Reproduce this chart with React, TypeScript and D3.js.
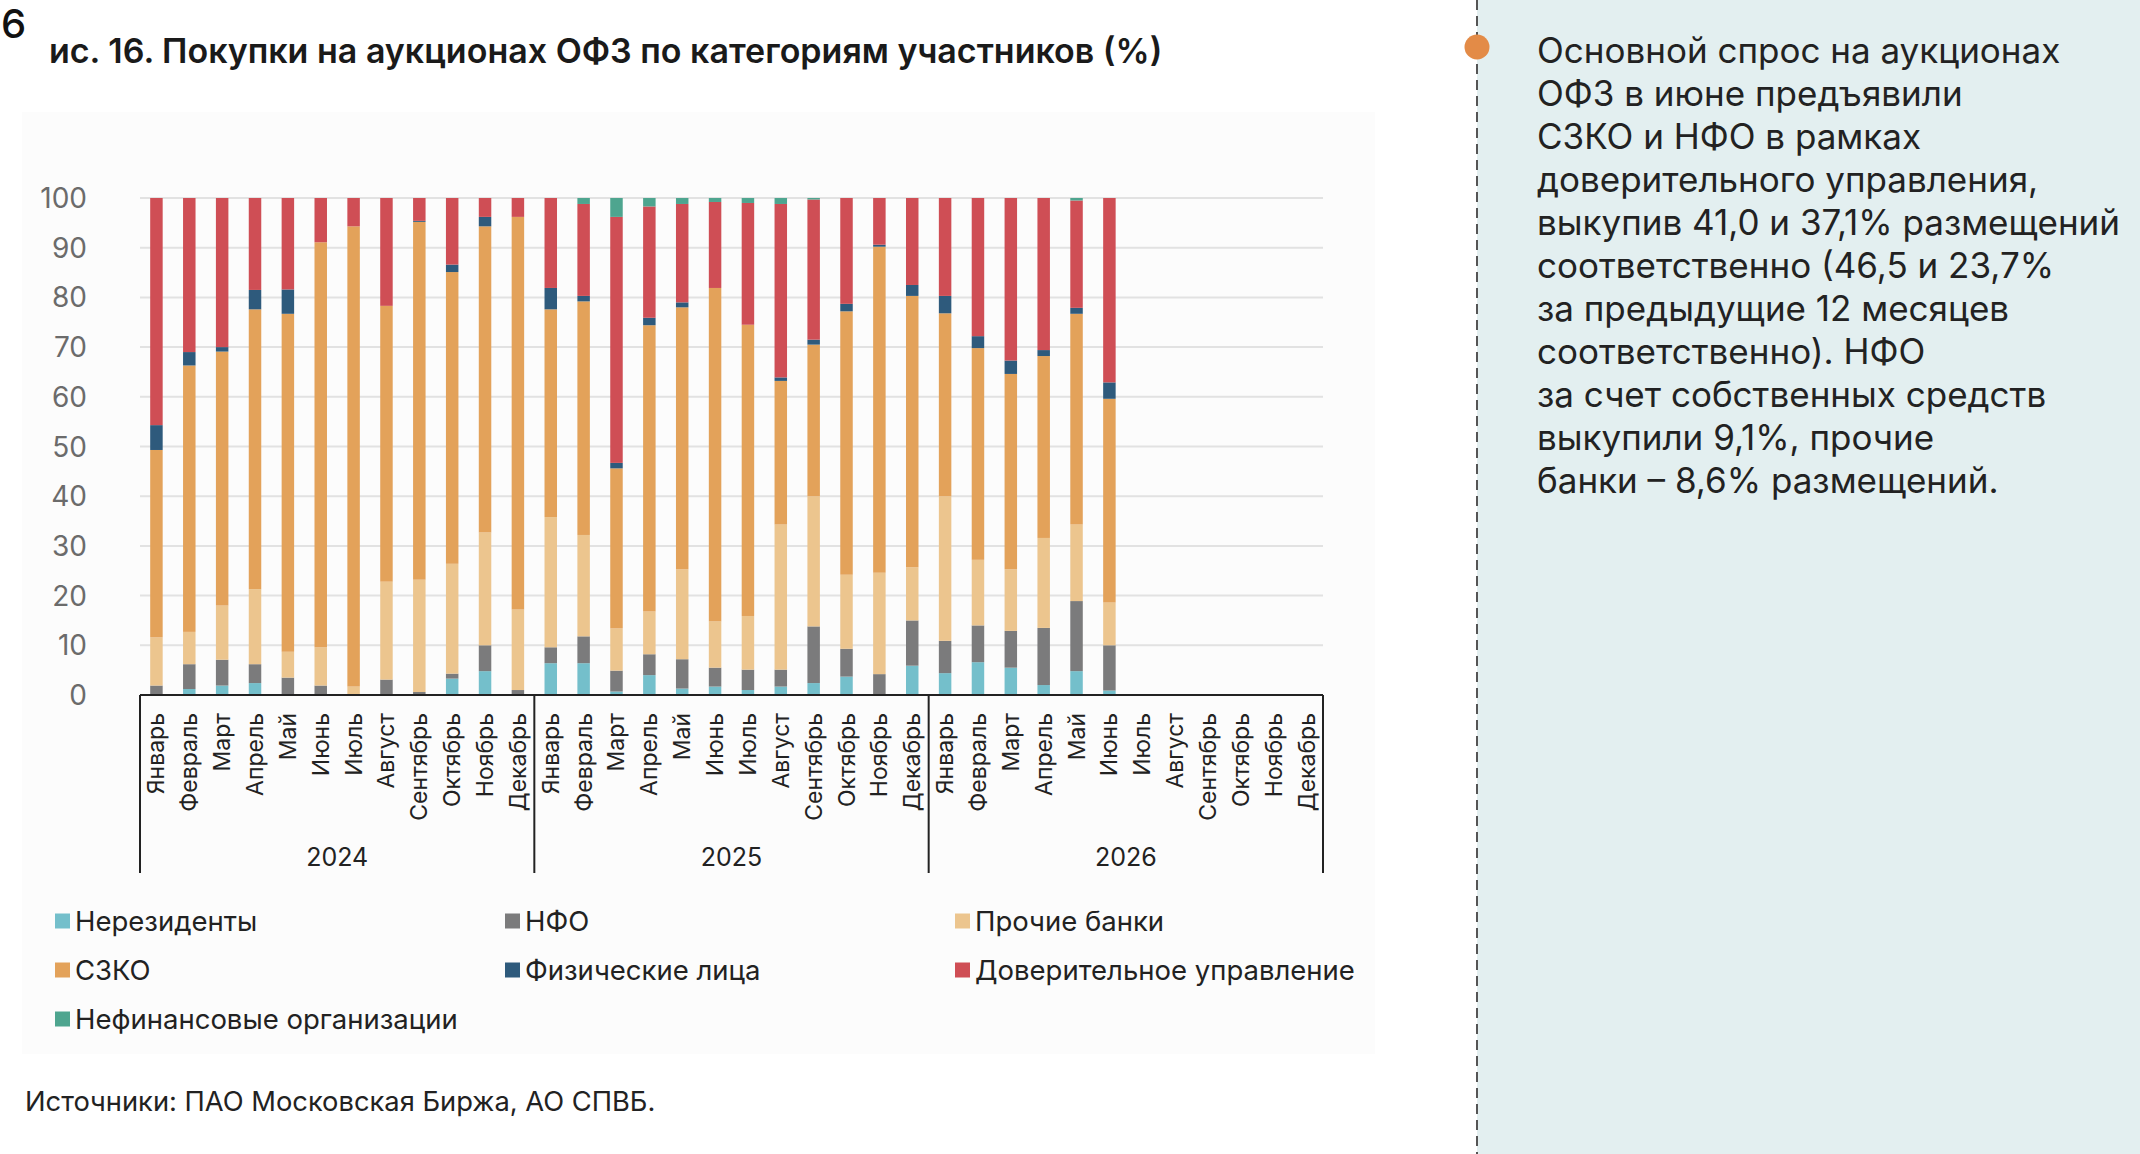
import React from 'react'
import * as d3 from 'd3'

// monthly shares of OFZ auction purchases, Jan 2024 .. Jun 2026 (%)
const months = ['Январь', 'Февраль', 'Март', 'Апрель', 'Май', 'Июнь', 'Июль', 'Август', 'Сентябрь', 'Октябрь', 'Ноябрь', 'Декабрь']
const years = ['2024', '2025', '2026']

const nonResidents = [0, 1.2, 1.9, 2.4, 0, 0, 0, 0, 0, 3.3, 4.8, 0, 6.4, 6.4, 0.7, 4.0, 1.3, 1.7, 1.0, 1.7, 2.4, 3.7, 0, 5.9, 4.4, 6.6, 5.5, 2.0, 4.8, 0.9]
const nfo = [1.9, 5.0, 5.2, 3.8, 3.5, 1.9, 0.2, 3.1, 0.6, 1.0, 5.2, 1.0, 3.2, 5.4, 4.2, 4.2, 5.9, 3.8, 4.1, 3.4, 11.4, 5.6, 4.2, 9.1, 6.5, 7.4, 7.4, 11.5, 14.1, 9.1]
const otherBanks = [9.7, 6.5, 10.9, 15.1, 5.2, 7.7, 1.5, 19.7, 22.6, 22.1, 22.7, 16.2, 26.2, 20.4, 8.5, 8.6, 18.1, 9.3, 10.8, 29.2, 26.2, 14.9, 20.4, 10.7, 29.1, 13.2, 12.4, 18.1, 15.4, 8.6]
const szko = [37.7, 53.6, 51.1, 56.3, 68.0, 81.5, 92.6, 55.5, 72.0, 58.7, 61.6, 79.0, 41.8, 47.0, 32.2, 57.6, 52.7, 67.1, 58.6, 28.9, 30.5, 53.0, 65.6, 54.6, 36.8, 42.6, 39.3, 36.6, 42.4, 41.0]
const individuals = [5.0, 2.7, 0.9, 3.9, 4.9, 0, 0, 0, 0.2, 1.5, 1.9, 0, 4.3, 1.1, 1.1, 1.5, 1.0, 0, 0, 0.7, 1.0, 1.5, 0.4, 2.2, 3.5, 2.4, 2.7, 1.2, 1.2, 3.3]
const trust = [45.7, 31.0, 30.0, 18.5, 18.4, 8.9, 5.7, 21.7, 4.6, 13.4, 3.8, 3.8, 18.1, 18.5, 49.5, 22.4, 19.8, 17.3, 24.5, 34.9, 28.2, 21.3, 9.4, 17.5, 19.7, 27.8, 32.7, 30.6, 21.6, 37.1]
const nonFinancial = [0, 0, 0, 0, 0, 0, 0, 0, 0, 0, 0, 0, 0, 1.2, 3.8, 1.7, 1.2, 0.8, 1.0, 1.2, 0.3, 0, 0, 0, 0, 0, 0, 0, 0.5, 0]

const seriesNames = ['Нерезиденты', 'НФО', 'Прочие банки', 'СЗКО', 'Физические лица', 'Доверительное управление', 'Нефинансовые организации']
const seriesValues = [nonResidents, nfo, otherBanks, szko, individuals, trust, nonFinancial]
const colors = ['#74bfcb', '#7b7b7c', '#ecc58e', '#e3a25a', '#2e5a7c', '#cf4e55', '#4ea58f']
const yTicks = [0, 10, 20, 30, 40, 50, 60, 70, 80, 90, 100]

const noteLines = [
  'Основной спрос на аукционах',
  'ОФЗ в июне предъявили',
  'СЗКО и НФО в рамках',
  'доверительного управления,',
  'выкупив 41,0 и 37,1% размещений',
  'соответственно (46,5 и 23,7%',
  'за предыдущие 12 месяцев',
  'соответственно). НФО',
  'за счет собственных средств',
  'выкупили 9,1%, прочие',
  'банки – 8,6% размещений.',
]

const font = 'Inter, "Noto Sans", sans-serif'

export default function App() {
  const width = 2140
  const height = 1154
  const left = 140
  const right = 1323
  const top = 198
  const bottom = 695

  const categories = years.flatMap((y) => months.map((m) => `${y}-${m}`))
  const x = d3.scaleBand().domain(categories).range([left, right]).paddingInner(0.62).paddingOuter(0.31)
  const y = d3.scaleLinear().domain([0, 100]).range([bottom, top])

  const rows = nonResidents.map((_, i) => {
    const row: any = { key: categories[i] }
    seriesNames.forEach((n, j) => (row[n] = seriesValues[j][i]))
    return row
  })
  const stacked = d3.stack().keys(seriesNames)(rows)

  const groupWidth = (right - left) / years.length

  return (
    <div style={{ position: 'absolute', left: 0, top: 0 }}>
      <svg width={width} height={height} style={{ display: 'block', fontFamily: font }}>
        <rect width={width} height={height} fill="#ffffff" />
        <rect x={22} y={112} width={1353} height={942} fill="#fcfcfc" />

        {/* note panel */}
        <rect x={1477} y={0} width={width - 1477} height={height} fill="#e3eff0" />
        <line x1={1477} x2={1477} y1={0} y2={height} stroke="#555" strokeWidth={2} strokeDasharray="10 6" />
        <circle cx={1477} cy={47} r={12.5} fill="#e38b47" />
        {noteLines.map((t, i) => (
          <text key={i} x={1537} y={63 + i * 43} fontSize={35} fill="#222">
            {t}
          </text>
        ))}

        <text x={1} y={38} fontSize={40} fontWeight={500} fill="#111">6</text>
        <text x={49} y={63} fontSize={34} fontWeight={600} fill="#1a1a1a">
          ис. 16. Покупки на аукционах ОФЗ по категориям участников (%)
        </text>

        {/* grid and y labels */}
        {yTicks.map((t) => (
          <g key={t}>
            {t > 0 && <line x1={left} x2={right} y1={y(t)} y2={y(t)} stroke="#e2e2e2" strokeWidth={2} />}
            <text x={87} y={y(t)} fontSize={28} fill="#6b6b6b" textAnchor="end" dominantBaseline="central">
              {t}
            </text>
          </g>
        ))}

        {/* stacked bars */}
        {stacked.map((layer, j) => (
          <g key={layer.key} fill={colors[j]}>
            {layer.map((d, i) =>
              d[1] - d[0] > 0 ? (
                <rect key={i} x={x(categories[i])} width={x.bandwidth()} y={y(d[1])} height={y(d[0]) - y(d[1])} />
              ) : null
            )}
          </g>
        ))}

        {/* category axis */}
        <line x1={left} x2={right} y1={bottom} y2={bottom} stroke="#222" strokeWidth={2} />
        {d3.range(years.length + 1).map((i) => (
          <line key={i} x1={left + i * groupWidth} x2={left + i * groupWidth} y1={bottom} y2={873} stroke="#222" strokeWidth={2} />
        ))}
        {categories.map((c, i) => (
          <text
            key={c}
            transform={`translate(${x(c)! + x.bandwidth() / 2},713) rotate(-90)`}
            fontSize={23}
            fill="#222"
            textAnchor="end"
            dominantBaseline="central"
          >
            {months[i % 12]}
          </text>
        ))}
        {years.map((yr, i) => (
          <text key={yr} x={left + (i + 0.5) * groupWidth} y={866} fontSize={25} fill="#222" textAnchor="middle">
            {yr}
          </text>
        ))}

        {/* legend */}
        {seriesNames.map((n, i) => {
          const lx = [55, 505, 955][i % 3]
          const ly = 921 + Math.floor(i / 3) * 49
          return (
            <g key={n}>
              <rect x={lx} y={ly - 7.5} width={15} height={15} fill={colors[i]} />
              <text x={lx + 20} y={ly} fontSize={27.5} fill="#222" dominantBaseline="central">
                {n}
              </text>
            </g>
          )
        })}

        <text x={25} y={1111} fontSize={27.3} fill="#222">
          Источники: ПАО Московская Биржа, АО СПВБ.
        </text>
      </svg>
    </div>
  )
}
